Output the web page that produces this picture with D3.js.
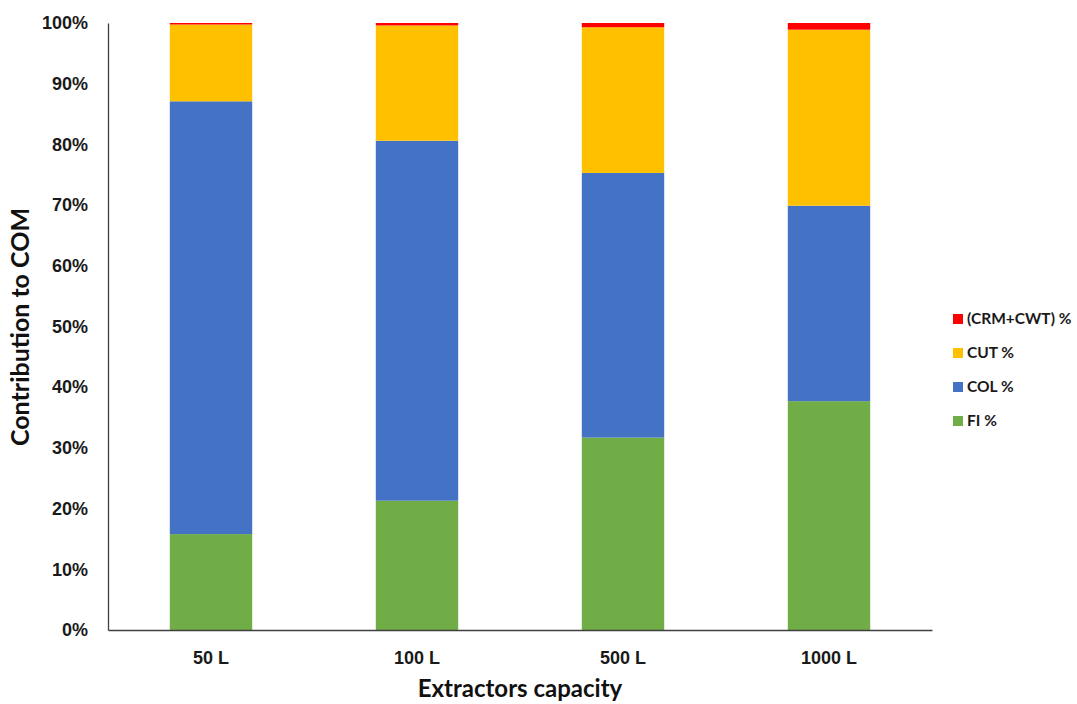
<!DOCTYPE html>
<html>
<head>
<meta charset="utf-8">
<script src="https://cdn.jsdelivr.net/npm/d3@7"></script>
<style>
  html, body { margin: 0; padding: 0; background: #fff; }
  svg { display: block; font-family: Lato, "Open Sans", "Liberation Sans", sans-serif; }
</style>
</head>
<body>
<svg id="chart" width="1077" height="704"></svg>
<script>
// Extractor sizes along the x axis
const categories = ["50 L", "100 L", "500 L", "1000 L"];

// Share of each cost component in COM (%), bottom to top
const fiValues     = [15.8, 21.3, 31.7, 37.7];
const colValues    = [71.3, 59.3, 43.6, 32.2];
const cutValues    = [12.65, 19.0, 24.0, 29.0];
const crmCwtValues = [0.25, 0.4, 0.7, 1.1];

const seriesNames = ["FI %", "COL %", "CUT %", "(CRM+CWT) %"];
const seriesColors = ["#70AD47", "#4472C4", "#FFC000", "#FF0000"];
const yTickValues = [0, 10, 20, 30, 40, 50, 60, 70, 80, 90, 100];

const rows = categories.map((c, i) => ({
  cat: c,
  "FI %": fiValues[i],
  "COL %": colValues[i],
  "CUT %": cutValues[i],
  "(CRM+CWT) %": crmCwtValues[i]
}));

const svg = d3.select("#chart");
const m = { left: 108, right: 932, top: 23, bottom: 630 };

const x = d3.scaleBand()
  .domain(categories)
  .range([m.left, m.right])
  .paddingInner(0.6)
  .paddingOuter(0.3);

const y = d3.scaleLinear().domain([0, 100]).range([m.bottom, m.top]);

const color = d3.scaleOrdinal().domain(seriesNames).range(seriesColors);

const stacked = d3.stack().keys(seriesNames)(rows);

// Stacked bars
svg.append("g")
  .selectAll("g")
  .data(stacked)
  .join("g")
  .attr("fill", d => color(d.key))
  .selectAll("rect")
  .data(d => d)
  .join("rect")
  .attr("x", d => x(d.data.cat))
  .attr("width", x.bandwidth())
  .attr("y", d => y(d[1]))
  .attr("height", d => y(d[0]) - y(d[1]));

// Y axis
const yAxis = svg.append("g")
  .attr("transform", `translate(${m.left},0)`)
  .call(d3.axisLeft(y).tickValues(yTickValues).tickFormat(d => d + "%").tickSize(0).tickPadding(20));
yAxis.select(".domain").attr("stroke", "#404040").attr("stroke-width", 1.3);
yAxis.selectAll("text")
  .attr("font-size", 18).attr("font-weight", "bold").attr("fill", "#1a1a1a");

// X axis
const xAxis = svg.append("g")
  .attr("transform", `translate(0,${m.bottom})`)
  .call(d3.axisBottom(x).tickSize(0).tickPadding(21));
xAxis.select(".domain").attr("stroke", "#404040").attr("stroke-width", 1.3);
xAxis.selectAll("text")
  .attr("font-size", 18).attr("font-weight", "bold").attr("fill", "#1a1a1a");

// Axis titles
svg.append("text")
  .attr("x", 520).attr("y", 697)
  .attr("text-anchor", "middle")
  .attr("font-size", 24).attr("font-weight", "bold").attr("fill", "#111")
  .text("Extractors capacity");

svg.append("text")
  .attr("transform", "translate(29,327) rotate(-90)")
  .attr("text-anchor", "middle")
  .attr("font-size", 25).attr("font-weight", "bold").attr("fill", "#111")
  .text("Contribution to COM");

// Legend, top entry is the top segment
const legendOrder = seriesNames.slice().reverse();
const legend = svg.append("g").attr("transform", "translate(953,319)");
const item = legend.selectAll("g")
  .data(legendOrder)
  .join("g")
  .attr("transform", (d, i) => `translate(0,${i * 34})`);
item.append("rect")
  .attr("x", 0).attr("y", -5).attr("width", 10).attr("height", 10)
  .attr("fill", d => color(d));
item.append("text")
  .attr("x", 14).attr("y", 0).attr("dy", "0.35em")
  .attr("font-size", 15.5).attr("font-weight", "bold").attr("fill", "#1a1a1a")
  .text(d => d);
</script>
</body>
</html>
